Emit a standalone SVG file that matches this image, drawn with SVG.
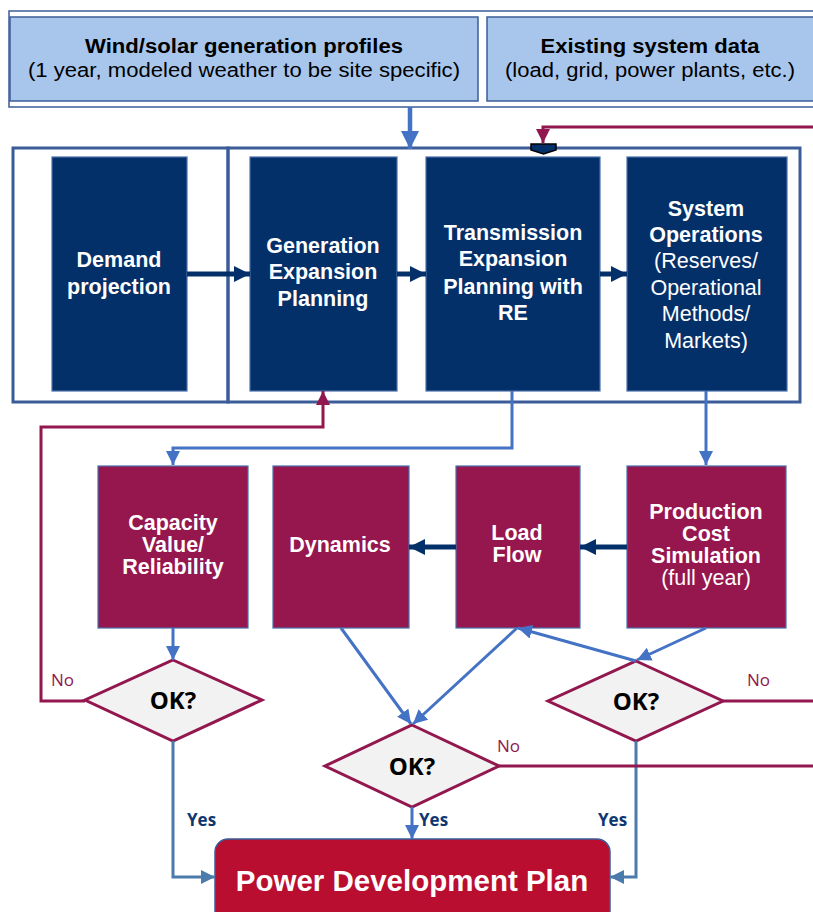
<svg xmlns="http://www.w3.org/2000/svg" width="813" height="912" viewBox="0 0 813 912">
<style>
.in{fill:#a8c6ec;stroke:#3b5c98;stroke-width:1.5}
.nv{fill:#04306a;stroke:#4a6ea9;stroke-width:1.2}
.cr{fill:#96164e;stroke:#4a6ea9;stroke-width:1.2}
.dm{fill:#f2f2f2;stroke:#93174f;stroke-width:3}
.fr{fill:none;stroke:#3b5c98;stroke-width:3}
.t{font-family:"Liberation Sans",Arial,sans-serif;fill:#fff;text-anchor:middle}
.b{font-weight:bold}
.bk{font-family:"Liberation Sans",Arial,sans-serif;fill:#000;text-anchor:middle}
.ok{font-family:"Open Sans","Noto Sans",sans-serif;font-weight:bold;font-size:24px;fill:#000;text-anchor:middle}
.yes{font-family:"Open Sans","Noto Sans",sans-serif;font-weight:bold;font-size:17px;fill:#0e3670}
.no{font-family:"Open Sans","Noto Sans",sans-serif;font-size:17px;fill:#93174f}
.lb{fill:none;stroke:#4472c4;stroke-width:3}
.ls{fill:none;stroke:#4a7bab;stroke-width:3}
.lc{fill:none;stroke:#93174f;stroke-width:3}
.ln{fill:none;stroke:#04306a;stroke-width:5}
</style>
<defs>
<marker id="ab" markerUnits="userSpaceOnUse" markerWidth="14" markerHeight="14" viewBox="0 0 14 14" refX="14" refY="7" orient="auto"><path d="M0,0 L14,7 L0,14 z" fill="#4472c4"/></marker>
<marker id="abl" markerUnits="userSpaceOnUse" markerWidth="18" markerHeight="18" viewBox="0 0 18 18" refX="18" refY="9" orient="auto"><path d="M0,0 L18,9 L0,18 z" fill="#4472c4"/></marker>
<marker id="as" markerUnits="userSpaceOnUse" markerWidth="14" markerHeight="14" viewBox="0 0 14 14" refX="14" refY="7" orient="auto"><path d="M0,0 L14,7 L0,14 z" fill="#4a7bab"/></marker>
<marker id="ac" markerUnits="userSpaceOnUse" markerWidth="14" markerHeight="14" viewBox="0 0 14 14" refX="14" refY="7" orient="auto"><path d="M0,0 L14,7 L0,14 z" fill="#93174f"/></marker>
<marker id="an" markerUnits="userSpaceOnUse" markerWidth="18" markerHeight="18" viewBox="0 0 18 18" refX="16" refY="9" orient="auto"><path d="M0,1 L16,9 L0,17 z" fill="#04306a"/></marker>
</defs>
<rect width="813" height="912" fill="#fff"/>

<rect x="9" y="11" width="810" height="96" fill="#fff" stroke="#3b5c98" stroke-width="1.5"/>
<g id="wind"><rect class="in" x="10" y="17" width="468" height="84"/>
<text class="bk b" x="244" y="53" font-size="20" textLength="318" lengthAdjust="spacingAndGlyphs">Wind/solar generation profiles</text>
<text class="bk" x="244" y="77" font-size="20" textLength="432" lengthAdjust="spacingAndGlyphs">(1 year, modeled weather to be site specific)</text></g>
<g id="existing"><rect class="in" x="487" y="17" width="340" height="84"/>
<text class="bk b" x="650" y="53" font-size="20" textLength="219" lengthAdjust="spacingAndGlyphs">Existing system data</text>
<text class="bk" x="650" y="77" font-size="20" textLength="290" lengthAdjust="spacingAndGlyphs">(load, grid, power plants, etc.)</text></g>

<rect class="fr" x="13" y="148" width="215" height="254"/>
<rect class="fr" x="228" y="148" width="572" height="254"/>

<g id="demand"><rect class="nv" x="52" y="157" width="135" height="234"/>
<text class="t b" font-size="21.5"><tspan x="119" y="267">Demand</tspan><tspan x="119" y="294">projection</tspan></text></g>
<g id="gen"><rect class="nv" x="250" y="157" width="147" height="234"/>
<text class="t b" font-size="21.5"><tspan x="323" y="253">Generation</tspan><tspan x="323" y="279">Expansion</tspan><tspan x="323" y="306">Planning</tspan></text></g>
<g id="trans"><rect class="nv" x="426" y="157" width="174" height="234"/>
<text class="t b" font-size="21.5"><tspan x="513" y="240">Transmission</tspan><tspan x="513" y="266">Expansion</tspan><tspan x="513" y="294">Planning with</tspan><tspan x="513" y="320">RE</tspan></text></g>
<g id="sysops"><rect class="nv" x="627" y="157" width="160" height="234"/>
<text class="t" font-size="21.5"><tspan class="b" x="706" y="216">System</tspan><tspan class="b" x="706" y="242">Operations</tspan><tspan x="706" y="268">(Reserves/</tspan><tspan x="706" y="295">Operational</tspan><tspan x="706" y="321">Methods/</tspan><tspan x="706" y="348">Markets)</tspan></text></g>

<g id="capacity"><rect class="cr" x="98" y="466" width="150" height="162"/>
<text class="t b" font-size="21.5"><tspan x="173" y="530">Capacity</tspan><tspan x="173" y="552">Value/</tspan><tspan x="173" y="574">Reliability</tspan></text></g>
<g id="dynamics"><rect class="cr" x="273" y="466" width="136" height="162"/>
<text class="t b" font-size="21.5" x="340" y="552">Dynamics</text></g>
<g id="loadflow"><rect class="cr" x="456" y="466" width="124" height="162"/>
<text class="t b" font-size="21.5"><tspan x="517" y="540">Load</tspan><tspan x="517" y="562">Flow</tspan></text></g>
<g id="pcs"><rect class="cr" x="627" y="466" width="159" height="162"/>
<text class="t" font-size="21.5"><tspan class="b" x="706" y="519">Production</tspan><tspan class="b" x="706" y="541">Cost</tspan><tspan class="b" x="706" y="563">Simulation</tspan><tspan x="706" y="585">(full year)</tspan></text></g>

<g id="ok1"><polygon class="dm" points="173,660 262,700 173,741 85,700"/><text class="ok" x="173" y="709">OK?</text></g>
<g id="ok2"><polygon class="dm" points="412,725 499,766 412,807 325,766"/><text class="ok" x="412" y="775">OK?</text></g>
<g id="ok3"><polygon class="dm" points="636,661 723,701 636,741 548,701"/><text class="ok" x="636" y="710">OK?</text></g>

<g id="pdp"><rect x="215" y="839" width="395" height="90" rx="13" fill="#b90e30" stroke="#3b5c98" stroke-width="1.5"/>
<text class="t b" font-size="29.5" x="412" y="891">Power Development Plan</text></g>

<g id="connectors">
<line x1="410" y1="107" x2="410" y2="149" stroke="#4472c4" stroke-width="4.5" marker-end="url(#abl)"/>
<polyline class="lc" points="815,127 543,127 543,143" marker-end="url(#ac)"/>
<polygon points="531,144 556,144 556,150 543.5,154 531,150" fill="#04306a" stroke="#000" stroke-width="1.5"/>
<line class="ln" x1="187" y1="274" x2="250" y2="274" marker-end="url(#an)"/>
<line class="ln" x1="397" y1="274" x2="426" y2="274" marker-end="url(#an)"/>
<line class="ln" x1="600" y1="274" x2="627" y2="274" marker-end="url(#an)"/>
<polyline class="lc" points="85,701 41,701 41,427 323,427 323,391" marker-end="url(#ac)"/>
<polyline class="lb" points="512,391 512,448 173,448 173,465" marker-end="url(#ab)"/>
<line class="lb" x1="706" y1="391" x2="706" y2="465" marker-end="url(#ab)"/>
<line class="ln" x1="627" y1="547" x2="580" y2="547" marker-end="url(#an)"/>
<line class="ln" x1="456" y1="547" x2="409" y2="547" marker-end="url(#an)"/>
<line class="lb" x1="173" y1="628" x2="173" y2="660" marker-end="url(#ab)"/>
<line class="lb" x1="341" y1="628" x2="411" y2="724" marker-end="url(#ab)"/>
<line class="lb" x1="517" y1="628" x2="413" y2="724" marker-end="url(#ab)"/>
<line class="lb" x1="636" y1="661" x2="518" y2="628" marker-end="url(#ab)"/>
<line class="lb" x1="706" y1="628" x2="637" y2="660" marker-end="url(#ab)"/>
<polyline class="ls" points="173,741 173,877 215,877" marker-end="url(#as)"/>
<line class="lb" x1="412" y1="807" x2="412" y2="839" marker-end="url(#ab)"/>
<polyline class="ls" points="636,741 636,877 610,877" marker-end="url(#as)"/>
<line class="lc" x1="723" y1="701" x2="815" y2="701"/>
<line class="lc" x1="499" y1="766" x2="815" y2="766"/>
<text class="no" x="51" y="686">No</text>
<text class="no" x="497" y="752">No</text>
<text class="no" x="747" y="686">No</text>
<text class="yes" x="187" y="826">Yes</text>
<text class="yes" x="419" y="826">Yes</text>
<text class="yes" x="598" y="826">Yes</text>
</g>
</svg>
